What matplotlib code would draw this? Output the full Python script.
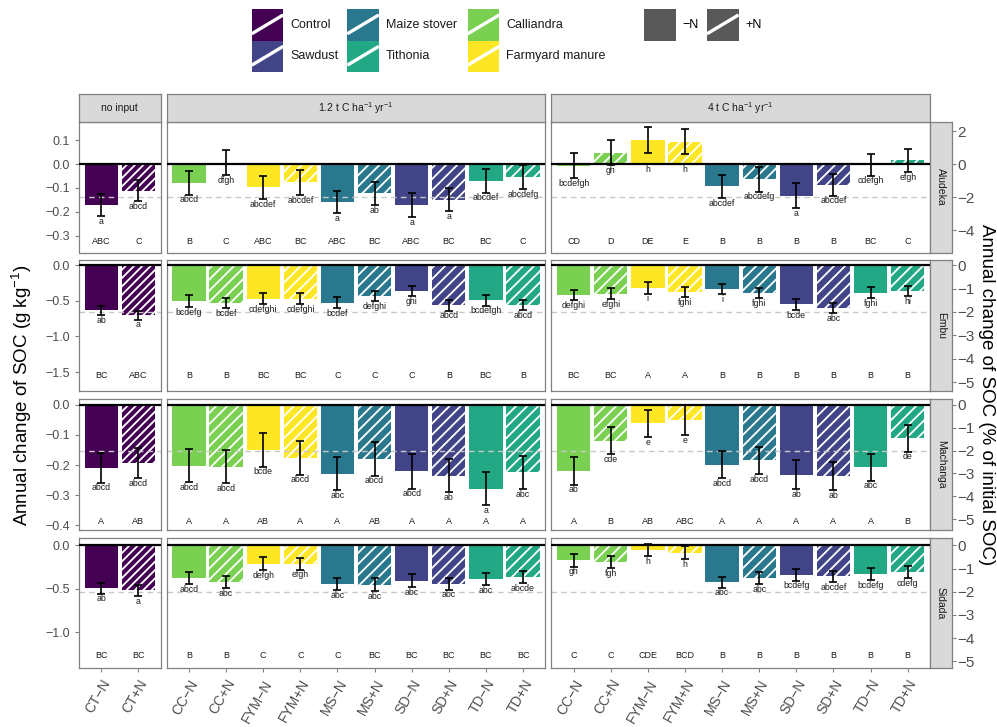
import numpy as np
import matplotlib.pyplot as plt

plt.rcParams['font.family'] = ['Liberation Sans', 'DejaVu Sans']
plt.rcParams['mathtext.fontset'] = 'custom'
plt.rcParams['mathtext.rm'] = 'Liberation Sans'
plt.rcParams['mathtext.default'] = 'regular'
plt.rcParams['hatch.linewidth'] = 1.3

W, H = 997, 727

# ---- data -----------------------------------------------------------------
sites = ["Aludeka", "Embu", "Machanga", "Sidada"]
initial_soc = [6.9, 32.8, 7.6, 26.7]          # g kg-1, drives the % axis
y_limits = [(-0.37, 0.176), (-1.765, 0.066), (-0.414, 0.019), (-1.413, 0.092)]
left_ticks = [[0.1, 0.0, -0.1, -0.2, -0.3],
              [0.0, -0.5, -1.0, -1.5],
              [0.0, -0.1, -0.2, -0.3, -0.4],
              [0.0, -0.5, -1.0]]
right_ticks = [[2, 0, -2, -4],
               [0, -1, -2, -3, -4, -5],
               [0, -1, -2, -3, -4, -5],
               [0, -1, -2, -3, -4, -5]]
cap_frac = [0.086, 0.118, 0.06, 0.097]
threshold_pct = -2

panel_titles = ["no input", "1.2 t C ha$^{-1}$ yr$^{-1}$", "4 t C ha$^{-1}$ yr$^{-1}$"]
noinput_labels = ["CT\u2212N", "CT+N"]
input_labels = ["CC\u2212N", "CC+N", "FYM\u2212N", "FYM+N", "MS\u2212N", "MS+N",
                "SD\u2212N", "SD+N", "TD\u2212N", "TD+N"]
noinput_inputs = ["Control", "Control"]
input_inputs = ["Calliandra", "Calliandra", "Farmyard manure", "Farmyard manure",
                "Maize stover", "Maize stover", "Sawdust", "Sawdust",
                "Tithonia", "Tithonia"]
input_colors = {"Control": "#440154", "Sawdust": "#414487",
                "Maize stover": "#2A788E", "Tithonia": "#22A884",
                "Calliandra": "#7AD151", "Farmyard manure": "#FDE725"}

# means (g kg-1 yr-1), one list per site
mean_none = [[-0.172, -0.111], [-0.634, -0.704], [-0.209, -0.194], [-0.492, -0.519]]
se_none = [[0.045, 0.045], [0.064, 0.061], [0.05, 0.05], [0.062, 0.064]]
mean_low = [[-0.079, 0.005, -0.097, -0.077, -0.158, -0.122, -0.172, -0.150, -0.070, -0.056],
            [-0.507, -0.530, -0.469, -0.469, -0.525, -0.431, -0.366, -0.563, -0.493, -0.563],
            [-0.202, -0.205, -0.150, -0.177, -0.229, -0.180, -0.221, -0.235, -0.279, -0.224],
            [-0.376, -0.422, -0.211, -0.211, -0.442, -0.453, -0.404, -0.442, -0.384, -0.365]]
se_low = [[0.049, 0.052, 0.049, 0.052, 0.047, 0.049, 0.050, 0.048, 0.049, 0.050],
          [0.083, 0.075, 0.075, 0.080, 0.077, 0.070, 0.073, 0.075, 0.075, 0.070],
          [0.055, 0.055, 0.055, 0.055, 0.055, 0.055, 0.057, 0.055, 0.055, 0.055],
          [0.068, 0.070, 0.073, 0.068, 0.071, 0.073, 0.073, 0.068, 0.072, 0.071]]
mean_high = [[-0.007, 0.048, 0.101, 0.094, -0.093, -0.063, -0.132, -0.086, -0.003, 0.015],
             [-0.423, -0.399, -0.319, -0.375, -0.338, -0.389, -0.549, -0.600, -0.389, -0.361],
             [-0.220, -0.119, -0.062, -0.051, -0.199, -0.185, -0.232, -0.237, -0.207, -0.111],
             [-0.173, -0.192, -0.050, -0.084, -0.422, -0.376, -0.338, -0.357, -0.326, -0.307]]
se_high = [[0.052, 0.052, 0.053, 0.053, 0.049, 0.052, 0.052, 0.046, 0.046, 0.049],
           [0.070, 0.075, 0.082, 0.070, 0.072, 0.070, 0.078, 0.070, 0.077, 0.073],
           [0.045, 0.045, 0.046, 0.050, 0.045, 0.046, 0.048, 0.047, 0.045, 0.045],
           [0.071, 0.070, 0.072, 0.075, 0.064, 0.069, 0.068, 0.067, 0.072, 0.067]]

# small letters (within site) and capital letters (within treatment)
small_none = [["a", "abcd"], ["ab", "a"], ["abcd", "abcd"], ["ab", "a"]]
small_low = [["abcd", "dfgh", "abcdef", "abcdef", "a", "ab", "a", "a", "abcdef", "abcdefg"],
             ["bcdefg", "bcdef", "cdefghi", "cdefghi", "bcdef", "defghi", "ghi", "abcd", "bcdefgh", "abcd"],
             ["abcd", "abcd", "bcde", "abcd", "abc", "abcd", "abcd", "ab", "a", "abc"],
             ["abcd", "abc", "defgh", "efgh", "abc", "abc", "abc", "abc", "abc", "abcde"]]
small_high = [["bcdefgh", "gh", "h", "h", "abcdef", "abcdefg", "a", "abcdef", "cdefgh", "efgh"],
              ["defghi", "efghi", "i", "fghi", "i", "fghi", "bcde", "abc", "fghi", "hi"],
              ["ab", "cde", "e", "e", "abcd", "abcd", "ab", "ab", "abc", "de"],
              ["gh", "fgh", "h", "h", "abc", "abc", "bcdefg", "abcdef", "bcdefg", "cdefg"]]
caps_none = [["ABC", "C"], ["BC", "ABC"], ["A", "AB"], ["BC", "BC"]]
caps_low = [["B", "C", "ABC", "BC", "ABC", "BC", "ABC", "BC", "BC", "C"],
            ["B", "B", "BC", "BC", "C", "C", "C", "B", "BC", "B"],
            ["A", "A", "AB", "A", "A", "AB", "A", "A", "A", "A"],
            ["B", "B", "C", "C", "C", "BC", "BC", "BC", "BC", "BC"]]
caps_high = [["CD", "D", "DE", "E", "B", "B", "B", "B", "BC", "C"],
             ["BC", "BC", "A", "A", "B", "B", "B", "B", "B", "B"],
             ["A", "B", "AB", "ABC", "A", "A", "A", "A", "A", "B"],
             ["C", "C", "CDE", "BCD", "B", "B", "B", "B", "B", "B"]]

# ---- layout (pixels) --------------------------------------------------------
col_x = [(79, 160.7), (166.7, 545.3), (551.3, 930)]
row_y = [(122, 252.5), (260.5, 391), (399, 529.5), (537.5, 668)]
strip_top = (94, 122)
strip_right = (930, 952)
BORDER = "#808080"
STRIP = "#D9D9D9"
TXT = "#4D4D4D"


def px_axes(fig, x0, y0, x1, y1):
    return fig.add_axes([x0 / W, 1 - y1 / H, (x1 - x0) / W, (y1 - y0) / H])


def style_box(ax):
    for sp in ax.spines.values():
        sp.set_color(BORDER)
        sp.set_linewidth(0.9)


def draw_panel(ax, labels, inputs, means, ses, smalls, caps, ylim, soc, frac, dense):
    x = np.arange(len(labels))
    for i in range(len(labels)):
        hatched = labels[i].endswith("+N")
        ax.bar(x[i], means[i], width=0.9, color=input_colors[inputs[i]],
               edgecolor="white", linewidth=0,
               hatch=("////" if dense else "///") if hatched else None, zorder=1)
    ax.axhline(threshold_pct / 100 * soc, color="#C8C8C8", ls=(0, (4, 3)), lw=1, zorder=2)
    ax.axhline(0, color="black", lw=1.6, zorder=3)
    ax.errorbar(x, means, yerr=ses, fmt="none", ecolor="black", elinewidth=1.2,
                capsize=3, capthick=1.2, zorder=4)
    for i in range(len(labels)):
        lo = min(means[i] - ses[i], 0)
        ax.annotate(smalls[i], (x[i], lo), xytext=(0, -0.5), textcoords="offset points",
                    ha="center", va="top", fontsize=6.3, color="#1A1A1A", zorder=5)
        ax.text(x[i], frac, caps[i], transform=ax.get_xaxis_transform(),
                ha="center", va="center", fontsize=6.5, color="#1A1A1A")
    ax.set_xlim(-0.6, len(labels) - 0.4)
    ax.set_ylim(*ylim)
    style_box(ax)


def main():
    fig = plt.figure(figsize=(W / 100, H / 100), dpi=100)

    for r, site in enumerate(sites):
        groups = [(noinput_labels, noinput_inputs, mean_none[r], se_none[r], small_none[r], caps_none[r]),
                  (input_labels, input_inputs, mean_low[r], se_low[r], small_low[r], caps_low[r]),
                  (input_labels, input_inputs, mean_high[r], se_high[r], small_high[r], caps_high[r])]
        for c, (labels, inputs, m, s, sm, cp) in enumerate(groups):
            ax = px_axes(fig, col_x[c][0], row_y[r][0], col_x[c][1], row_y[r][1])
            draw_panel(ax, labels, inputs, m, s, sm, cp, y_limits[r], initial_soc[r],
                       cap_frac[r], dense=(c == 0))
            ax.tick_params(colors=BORDER, labelcolor=TXT, length=3, width=0.8)
            if c == 0:
                ax.set_yticks(left_ticks[r])
                ax.set_yticklabels([f"{t:.1f}".replace("-", "\u2212") for t in left_ticks[r]],
                                   fontsize=9)
            else:
                ax.set_yticks([])
            ax.set_xticks(np.arange(len(labels)))
            if r == len(sites) - 1:
                ax.set_xticklabels(labels, rotation=60, ha="right", rotation_mode="anchor",
                                   fontsize=10)
            else:
                ax.tick_params(axis="x", length=0, labelbottom=False)
            if r == 0:
                st = px_axes(fig, col_x[c][0], strip_top[0], col_x[c][1], strip_top[1])
                st.set_facecolor(STRIP)
                st.set_xticks([])
                st.set_yticks([])
                style_box(st)
                st.text(0.5, 0.5, panel_titles[c], ha="center", va="center",
                        fontsize=7.5, color="#1A1A1A", transform=st.transAxes)

        # row strip carrying the % of initial SOC axis
        rs = px_axes(fig, strip_right[0], row_y[r][0], strip_right[1], row_y[r][1])
        rs.set_facecolor(STRIP)
        style_box(rs)
        rs.set_xticks([])
        rs.set_ylim(y_limits[r][0] / initial_soc[r] * 100, y_limits[r][1] / initial_soc[r] * 100)
        rs.yaxis.tick_right()
        rs.set_yticks(right_ticks[r])
        rs.tick_params(axis="y", colors=BORDER, labelcolor=TXT, length=3, width=0.8,
                       labelsize=11, pad=1)
        rs.text(0.5, 0.5, site, rotation=-90, ha="center", va="center",
                fontsize=7.5, color="#1A1A1A", transform=rs.transAxes)

    # axis titles
    fig.text(22 / W, 1 - 395 / H, "Annual change of SOC (g kg$^{-1}$)", rotation=90,
             ha="center", va="center", fontsize=13.5)
    fig.text(986 / W, 1 - 395 / H, "Annual change of SOC (% of initial SOC)", rotation=-90,
             ha="center", va="center", fontsize=13.5)

    # legend drawn on an overlay in pixel units
    ov = fig.add_axes([0, 0, 1, 1])
    ov.set_xlim(0, W)
    ov.set_ylim(H, 0)
    ov.axis("off")
    ov.patch.set_alpha(0)
    key_w, key_h = 31.5, 31.4
    key_cols = [251.7, 347.3, 467.7]
    key_rows = [9.3, 40.7]
    fill_order = [["Control", "Sawdust"], ["Maize stover", "Tithonia"],
                  ["Calliandra", "Farmyard manure"]]

    def key(x0, y0, color, stripe):
        ov.add_patch(plt.Rectangle((x0, y0), key_w, key_h, facecolor=color, edgecolor="none"))
        if stripe:
            ov.plot([x0, x0 + key_w], [y0 + 0.78 * key_h, y0 + 0.18 * key_h],
                    color="white", lw=2.4, solid_capstyle="butt")

    for ci, names in enumerate(fill_order):
        for ri, name in enumerate(names):
            key(key_cols[ci], key_rows[ri], input_colors[name], True)
            ov.text(key_cols[ci] + key_w + 7, key_rows[ri] + key_h / 2, name,
                    ha="left", va="center", fontsize=9, color="#1A1A1A")
    key(644, 9.3, "#595959", False)
    ov.text(644 + key_w + 7, 9.3 + key_h / 2, "\u2212N", ha="left", va="center", fontsize=9)
    key(707, 9.3, "#595959", True)
    ov.text(707 + key_w + 7, 9.3 + key_h / 2, "+N", ha="left", va="center", fontsize=9)

    fig.savefig("out.png", dpi=100)


if __name__ == "__main__":
    main()
